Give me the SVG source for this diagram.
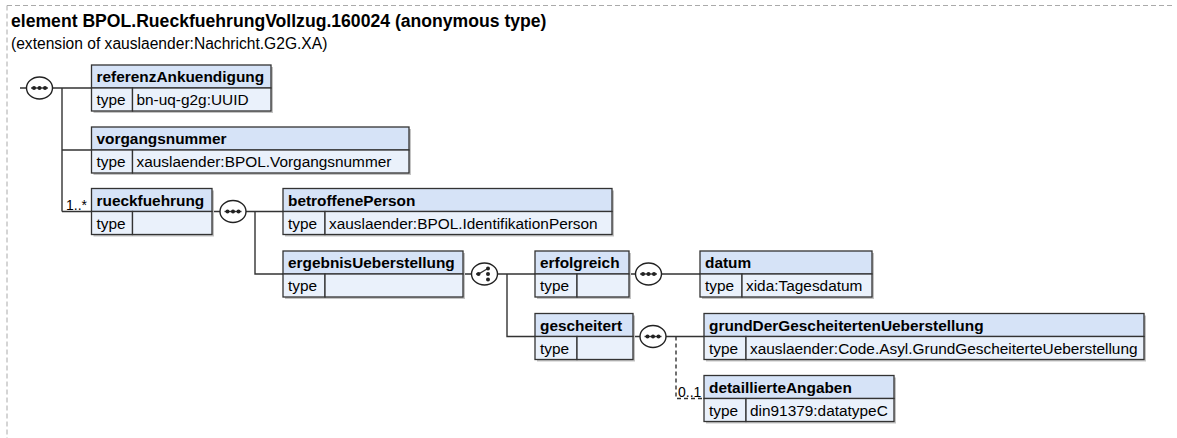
<svg xmlns="http://www.w3.org/2000/svg" width="1177" height="438" viewBox="0 0 1177 438">
<style>
text{font-family:"Liberation Sans",Arial,sans-serif;fill:#000}
.t{font-size:17.6px;font-weight:bold}
.st{font-size:15.6px}
.hd{font-size:15.4px;font-weight:bold}
.tx{font-size:15.4px}
.ml{font-size:14px}
.h{fill:#d6e3f7;stroke:#333;stroke-width:1.3}
.r{fill:#eaf1fb;stroke:#333;stroke-width:1.3}
.sh{fill:#c4c4c4}
.c{fill:none;stroke:#333;stroke-width:1.4}
.d{fill:none;stroke:#333;stroke-width:1.4;stroke-dasharray:4,3}
.o{fill:#fff;stroke:#222;stroke-width:1.4}
.dot{fill:#222}
.fr{fill:none;stroke:#aaa;stroke-width:1;stroke-dasharray:5,3}
</style>
<g id="frame">
<path class="fr" d="M7 5.5H1175M7 5.5V438"/>
<text class="t" x="11" y="27">element BPOL.RueckfuehrungVollzug.160024 (anonymous type)</text>
<text class="st" x="11" y="49">(extension of xauslaender:Nachricht.G2G.XA)</text>
</g>
<g id="connectors">
<path class="c" d="M20 88H26.5M52.5 88H91.5M62 88V211.5M62 150H91.5M62 211.5H91.5"/>
<path class="c" d="M212 211.5H220M246 211.5H283M255 211.5V274H283"/>
<path class="c" d="M463 274H471M497.5 274H535M507 274V336.5H535"/>
<path class="c" d="M629 274H635.5M661.5 274H700"/>
<path class="c" d="M633 336.5H640M666 336.5H704"/>
<path class="d" d="M676 336.5V398.5H704"/>
<text class="ml" x="66" y="210">1..*</text>
<text class="ml" x="678" y="396.5">0..1</text>
</g>
<g id="seq1">
<ellipse class="o" cx="39.5" cy="88" rx="13" ry="11"/>
<path class="c" d="M31 88H48"/><circle class="dot" cx="34" cy="88" r="2"/><circle class="dot" cx="39.5" cy="88" r="2"/><circle class="dot" cx="45" cy="88" r="2"/>
</g>
<g id="seq2">
<ellipse class="o" cx="233" cy="211.5" rx="13" ry="11"/>
<path class="c" d="M224.5 211.5H241.5"/><circle class="dot" cx="227.5" cy="211.5" r="2"/><circle class="dot" cx="233" cy="211.5" r="2"/><circle class="dot" cx="238.5" cy="211.5" r="2"/>
</g>
<g id="choice1">
<ellipse class="o" cx="484.5" cy="274" rx="13" ry="11"/>
<path class="c" d="M476 274H478.5L487 269"/><circle class="dot" cx="478.5" cy="274" r="2"/><circle class="dot" cx="488" cy="268.5" r="2"/><circle class="dot" cx="488" cy="274" r="2"/><circle class="dot" cx="488" cy="279.5" r="2"/>
</g>
<g id="seq3">
<ellipse class="o" cx="648.5" cy="274" rx="13" ry="11"/>
<path class="c" d="M640 274H657"/><circle class="dot" cx="643" cy="274" r="2"/><circle class="dot" cx="648.5" cy="274" r="2"/><circle class="dot" cx="654" cy="274" r="2"/>
</g>
<g id="seq4">
<ellipse class="o" cx="653" cy="336.5" rx="13" ry="11"/>
<path class="c" d="M644.5 336.5H661.5"/><circle class="dot" cx="647.5" cy="336.5" r="2"/><circle class="dot" cx="653" cy="336.5" r="2"/><circle class="dot" cx="658.5" cy="336.5" r="2"/>
</g>
<g id="referenzAnkuendigung">
<rect class="sh" x="93.5" y="67" width="179.5" height="46"/>
<rect class="h" x="91.5" y="65" width="179.5" height="23"/>
<rect class="r" x="91.5" y="88" width="41" height="23"/>
<rect class="r" x="132.5" y="88" width="138.5" height="23"/>
<text class="hd" x="96.5" y="82">referenzAnkuendigung</text>
<text class="tx" x="96.5" y="105">type</text>
<text class="tx" x="136.5" y="105">bn-uq-g2g:UUID</text>
</g>
<g id="vorgangsnummer">
<rect class="sh" x="93.5" y="129" width="317.5" height="46"/>
<rect class="h" x="91.5" y="127" width="317.5" height="23"/>
<rect class="r" x="91.5" y="150" width="41" height="23"/>
<rect class="r" x="132.5" y="150" width="276.5" height="23"/>
<text class="hd" x="96.5" y="144">vorgangsnummer</text>
<text class="tx" x="96.5" y="167">type</text>
<text class="tx" x="136.5" y="167">xauslaender:BPOL.Vorgangsnummer</text>
</g>
<g id="rueckfuehrung">
<rect class="sh" x="93.5" y="190.5" width="120.5" height="46"/>
<rect class="h" x="91.5" y="188.5" width="120.5" height="23"/>
<rect class="r" x="91.5" y="211.5" width="41" height="23"/>
<rect class="r" x="132.5" y="211.5" width="79.5" height="23"/>
<text class="hd" x="96.5" y="205.5">rueckfuehrung</text>
<text class="tx" x="96.5" y="228.5">type</text>
</g>
<g id="betroffenePerson">
<rect class="sh" x="285" y="190.5" width="329" height="46"/>
<rect class="h" x="283" y="188.5" width="329" height="23"/>
<rect class="r" x="283" y="211.5" width="42" height="23"/>
<rect class="r" x="325" y="211.5" width="287" height="23"/>
<text class="hd" x="288" y="205.5">betroffenePerson</text>
<text class="tx" x="288" y="228.5">type</text>
<text class="tx" x="329" y="228.5">xauslaender:BPOL.IdentifikationPerson</text>
</g>
<g id="ergebnisUeberstellung">
<rect class="sh" x="285" y="253" width="180" height="46"/>
<rect class="h" x="283" y="251" width="180" height="23"/>
<rect class="r" x="283" y="274" width="42" height="23"/>
<rect class="r" x="325" y="274" width="138" height="23"/>
<text class="hd" x="288" y="268">ergebnisUeberstellung</text>
<text class="tx" x="288" y="291">type</text>
</g>
<g id="erfolgreich">
<rect class="sh" x="537" y="253" width="94" height="46"/>
<rect class="h" x="535" y="251" width="94" height="23"/>
<rect class="r" x="535" y="274" width="42" height="23"/>
<rect class="r" x="577" y="274" width="52" height="23"/>
<text class="hd" x="540" y="268">erfolgreich</text>
<text class="tx" x="540" y="291">type</text>
</g>
<g id="datum">
<rect class="sh" x="702" y="253" width="172" height="46"/>
<rect class="h" x="700" y="251" width="172" height="23"/>
<rect class="r" x="700" y="274" width="42" height="23"/>
<rect class="r" x="742" y="274" width="130" height="23"/>
<text class="hd" x="705" y="268">datum</text>
<text class="tx" x="705" y="291">type</text>
<text class="tx" x="746" y="291">xida:Tagesdatum</text>
</g>
<g id="gescheitert">
<rect class="sh" x="537" y="315.5" width="98" height="46"/>
<rect class="h" x="535" y="313.5" width="98" height="23"/>
<rect class="r" x="535" y="336.5" width="42" height="23"/>
<rect class="r" x="577" y="336.5" width="56" height="23"/>
<text class="hd" x="540" y="330.5">gescheitert</text>
<text class="tx" x="540" y="353.5">type</text>
</g>
<g id="grundDerGescheitertenUeberstellung">
<rect class="sh" x="706" y="315.5" width="440" height="46"/>
<rect class="h" x="704" y="313.5" width="440" height="23"/>
<rect class="r" x="704" y="336.5" width="42" height="23"/>
<rect class="r" x="746" y="336.5" width="398" height="23"/>
<text class="hd" x="709" y="330.5">grundDerGescheitertenUeberstellung</text>
<text class="tx" x="709" y="353.5">type</text>
<text class="tx" x="750" y="353.5">xauslaender:Code.Asyl.GrundGescheiterteUeberstellung</text>
</g>
<g id="detaillierteAngaben">
<rect class="sh" x="706" y="377.5" width="190" height="46"/>
<rect class="h" x="704" y="375.5" width="190" height="23"/>
<rect class="r" x="704" y="398.5" width="42" height="23"/>
<rect class="r" x="746" y="398.5" width="148" height="23"/>
<text class="hd" x="709" y="392.5">detaillierteAngaben</text>
<text class="tx" x="709" y="415.5">type</text>
<text class="tx" x="750" y="415.5">din91379:datatypeC</text>
</g>
</svg>
